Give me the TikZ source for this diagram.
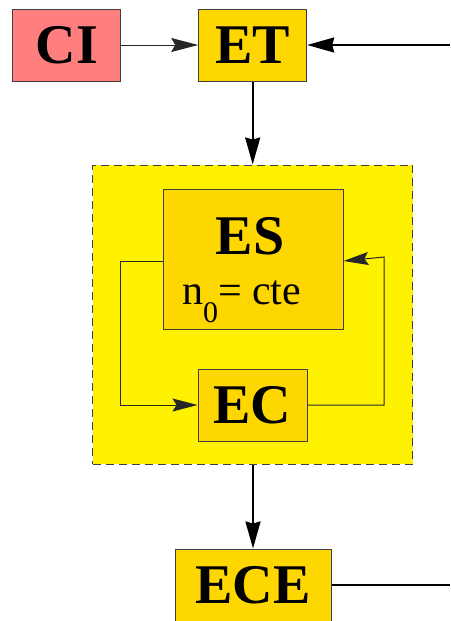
\documentclass[tikz,border=0pt]{standalone}
\usepackage{fontspec}
\setmainfont{Liberation Serif}
\usetikzlibrary{arrows.meta}
\definecolor{boxgold}{HTML}{FFD700}
\definecolor{boxred}{HTML}{FF7F7F}
\definecolor{bordergray}{HTML}{404040}
\tikzset{
  blk/.style={draw=bordergray, line width=1pt, fill=boxgold, inner sep=0pt,
    font=\fontsize{56}{60}\selectfont\bfseries},
  thinline/.style={line width=1pt, draw=black!85},
  thickline/.style={line width=2pt, draw=black},
  tipthin/.style={-{Stealth[length=27pt, width=14pt, inset=4pt]}},
  tipthick/.style={-{Stealth[length=27pt, width=15pt, inset=2pt]}},
  tipinner/.style={-{Stealth[length=25pt, width=13pt, inset=4pt]}},
}
\begin{document}
\begin{tikzpicture}[x=1pt,y=-1pt]
\useasboundingbox (0,0) rectangle (450,621);
% yellow group
\node[draw=bordergray, line width=1pt, dash pattern=on 8pt off 5pt, fill=yellow,
      minimum width=320pt, minimum height=299pt, inner sep=0pt] (grp) at (252.85,314.5) {};
\node[blk, fill=boxred, minimum width=108pt, minimum height=72pt] (CI) at (66.7,45) {CI};
\node[blk, minimum width=108pt, minimum height=72pt] (ET) at (252.7,45) {ET};
\node[blk, minimum width=180pt, minimum height=140pt] (ES) at (253,259) {};
\node[anchor=base, font=\fontsize{56}{60}\selectfont\bfseries] (ESt) at (250,254) {ES};
\node[anchor=base west, inner sep=0pt, font=\fontsize{42}{46}\selectfont] (n0) at (182,304)
  {n\raisebox{-18pt}{\fontsize{30}{30}\selectfont 0}= cte};
\node[blk, minimum width=109pt, minimum height=72pt] (EC) at (252.5,405) {EC};
\node[blk, minimum width=156pt, minimum height=72pt] (ECE) at (253,585) {ECE};
\coordinate (rin) at (450,45);
\coordinate (rout) at (450,585);
% connectors
\draw[thinline, tipthin] (CI.east) -- (ET.west);
\draw[thickline, tipthick] (rin) -- (ET.east);
\draw[thickline, tipthick] (ET.south) -- (grp.north -| ET.south);
\draw[thickline, tipthick] (grp.south -| ECE.north) -- (ECE.north);
\draw[thickline] (ECE.east) -- (rout);
\draw[thinline, tipinner] ([yshift=-2pt]ES.west) -| (120.7,405) -- (EC.west);
\draw[thinline, tipinner] (EC.east) -| (384,257) -- ([yshift=-2pt]ES.east);
\end{tikzpicture}
\end{document}
